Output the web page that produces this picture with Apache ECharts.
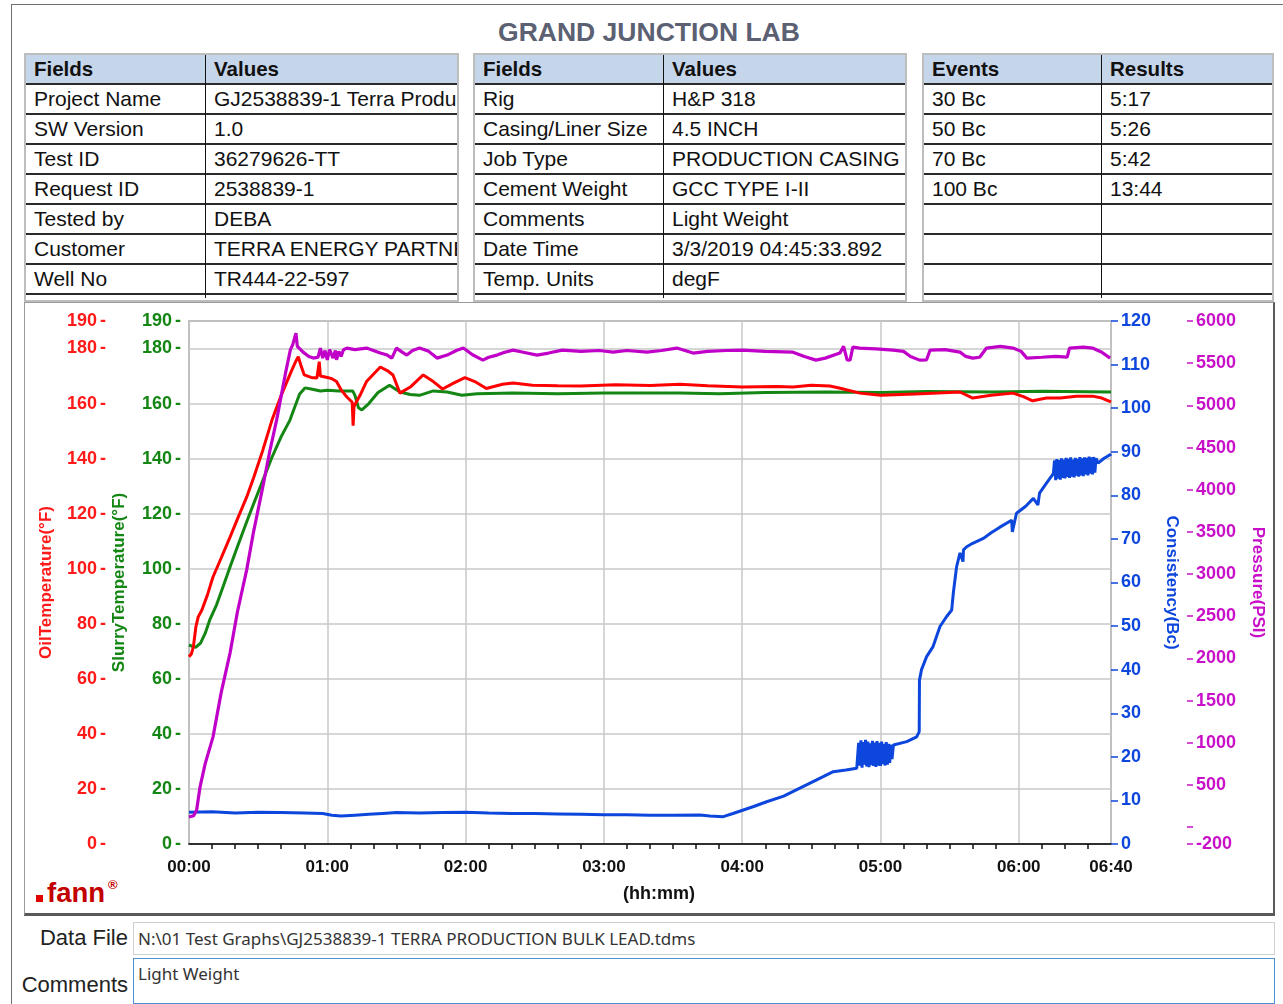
<!DOCTYPE html>
<html><head><meta charset="utf-8">
<script src="https://cdn.jsdelivr.net/npm/echarts@6/dist/echarts.min.js"></script>
<style>
html,body{margin:0;padding:0;background:#fff;width:1283px;height:1004px;overflow:hidden;font-family:'Liberation Sans',Arial,sans-serif;color:#111;}
#frame{position:absolute;left:11px;top:4px;width:1300px;height:1100px;border-left:1px solid #6f6f6f;border-top:1px solid #6f6f6f;}
#title{position:absolute;left:0;width:1298px;top:16px;text-align:center;font-weight:bold;font-size:26.5px;color:#5b6072;line-height:32px;}
.tbl{position:absolute;top:53px;height:249px;border:2px solid #bdbdbd;box-sizing:border-box;background:#fff;}
.row{position:absolute;left:0;right:0;height:28px;border-bottom:2px solid #2a2a2a;font-size:21px;line-height:28px;white-space:nowrap;}
.row.hd{background:#c5d5ea;font-weight:bold;font-size:20.5px;}
.cell{position:absolute;top:0;height:28px;overflow:hidden;padding-left:8px;box-sizing:border-box;}
.div{position:absolute;top:0;width:1.5px;height:243px;background:#111;}
#panel{position:absolute;left:24px;top:302px;width:1251px;height:614px;box-sizing:border-box;border:1px solid #9a9a9a;border-bottom:3px solid #5a5a5a;border-right:2px solid #5a5a5a;}
#logo{position:absolute;left:36px;top:877px;height:32px;}
#logo .sq{position:absolute;left:0;top:18px;width:7px;height:7px;background:#e00000;}
#logo .tx{position:absolute;left:11px;top:0;font-weight:bold;font-size:27.5px;line-height:32px;color:#c30000;}
#logo .r{position:absolute;left:72px;top:0px;font-size:13px;font-weight:bold;color:#c30000;}
.lbl{position:absolute;font-size:22px;line-height:26px;text-align:right;color:#222;}
.box{position:absolute;left:133px;width:1142px;box-sizing:border-box;font-family:'Noto Sans','Open Sans',sans-serif;font-size:17px;color:#333;padding-left:4px;}
#chart{position:absolute;left:0;top:0;width:1283px;height:1004px;}
</style></head>
<body>
<div id="frame"></div>
<div id="title">GRAND JUNCTION LAB</div>
<div id="tables"></div>
<div id="panel"></div>
<div id="logo"><div class="sq"></div><div class="tx">fann</div><div class="r">®</div></div>
<div class="lbl" style="left:10px;width:118px;top:925px;">Data File</div>
<div class="box" style="top:922px;height:33px;border:1px solid #cfcfcf;line-height:31px;">N:\01 Test Graphs\GJ2538839-1 TERRA PRODUCTION BULK LEAD.tdms</div>
<div class="lbl" style="left:0px;width:128px;top:972px;">Comments</div>
<div class="box" style="top:958px;height:46px;border:1.5px solid #4a90d9;line-height:30px;">Light Weight</div>
<div id="chart"></div>
<script>
// ---- table text ----
const table1Fields = ['Project Name','SW Version','Test ID','Request ID','Tested by','Customer','Well No'];
const table1Values = ['GJ2538839-1 Terra Production Bulk Lead','1.0','36279626-TT','2538839-1','DEBA','TERRA ENERGY PARTNERS','TR444-22-597'];
const table2Fields = ['Rig','Casing/Liner Size','Job Type','Cement Weight','Comments','Date Time','Temp. Units'];
const table2Values = ['H&P 318','4.5 INCH','PRODUCTION CASING','GCC TYPE I-II','Light Weight','3/3/2019 04:45:33.892','degF'];
const table3Events = ['30 Bc','50 Bc','70 Bc','100 Bc','','',''];
const table3Results = ['5:17','5:26','5:42','13:44','','',''];

// ---- chart data (minutes from start) ----
const oilTime = [0,1,1.9,3,4,5.6,8,10.4,14,17.8,21,25,28,32,36,40,44,46.4,47.4,48.5,50,53,55.5,56,56.5,57,60,62,64,66,68.5,70.8,71.2,71.6,74.2,77,83,86,88.5,91.5,96,101.6,106,110,115,119.7,124,129,136,140.6,149,160,170,185,200,213,225,240,255,262,270,278,283,291,300,315,325,334.5,340,348,357.5,362,366,372,378,385,392,396,400];
const oilTemp = [68,69,71.6,79,82.5,85,90.5,97,104,111.5,118,126,133,143,154,163,171,175.5,177,174,170.4,169.5,169.3,169.3,175.2,170,169.5,169,168,165,162.4,160.5,152,159,163,168,173.3,172,170.4,163.8,166,170.4,168,165.3,167.5,169.4,168,165.5,167,167.5,166.7,166.5,166.4,166.8,166.6,167,166.5,166,166.2,166,166.7,166.4,165.5,163.8,163,163.5,163.8,164.2,162,163,163.8,162.5,161,162,162,162.7,162.7,162,160.6];

const slurryTime = [0,1.5,3,5,7,9,12,15,17.8,21,25,28,32,36,40,43.8,46,48,50.3,53,57,60,65,71,72,73.5,75,78,82,87,91.5,96,100,106,112,118.4,125,140.6,160,180,213,230,250,276.8,300,320,349,370,400];
const slurryTemp = [72.3,71.8,71.5,73,76.5,81.4,87,94,100.6,108,117,123.5,132,140.5,148,154,159,163.5,165.7,165.3,164.6,164.8,164.6,164.6,163,158.5,157.7,160,164,166.7,164.2,163.3,163,164.6,164.2,163,163.6,163.8,163.6,163.8,163.8,163.6,164,164.2,164,164.4,164.2,164.5,164.2];

const consTime = [0,10,20,30,40,50,58,62,66,72,78,84,90,100,110,120,130,140,150,160,170,180,190,200,210,221.7,226,231.8,236,240.5,245,250.6,258,265,272.3,279.5,285,289.7,
 290,290.5,291,291.5,292,292.5,293,293.5,294,294.5,295,295.5,296,296.5,297,297.5,298,298.5,299,299.5,300,300.5,301,301.5,302,302.5,303,303.5,304,304.5,305,
 305.6,311.4,315.7,316.8,316.9,317.8,320,322.8,325.8,328.7,330.9,331.6,332.3,333,334.5,335.8,336,337.4,340,344.6,348,351.8,356.9,357.2,359,363,366.3,368.3,369,372,375,
 375.5,376,376.5,377,377.5,378,378.5,379,379.5,380,380.5,381,381.5,382,382.5,383,383.5,384,384.5,385,385.5,386,386.5,387,387.5,388,388.5,389,389.5,390,390.5,391,391.5,392,392.5,393,393.5,
 394.4,397,399.6,400];
const consVal = [7.3,7.4,7.1,7.3,7.2,7.1,7.0,6.6,6.4,6.6,6.8,7.0,7.2,7.1,7.2,7.3,7.1,7.0,7.0,6.9,6.8,6.7,6.7,6.6,6.6,6.65,6.4,6.27,7.0,7.8,8.6,9.7,11.0,12.8,14.7,16.6,17.0,17.4,
 17.6,23.2,18,23.8,17.5,23.4,18.2,23.9,17.8,23.5,17.6,23.1,18.1,23.7,17.9,23.3,17.7,23.6,18,23.2,17.9,23.5,18.3,23,18,23.4,18.2,23,18.6,22.8,19.5,
 22.7,23.5,24.6,25.8,37.6,40,43,45.3,49.9,52.2,53.7,57.6,60.6,63.6,66.8,64.8,67.5,68.2,69,70.1,71.4,72.7,74.3,71.6,75.9,77.5,79.3,77.8,80.5,82.8,85,
 88,83.5,88.3,83.8,88.1,83.6,88.5,84,88.2,83.9,88.6,84.2,88.4,84,88.7,84.3,88.2,84.1,88.6,84.5,88.4,84.3,88.8,84.6,88.5,84.4,88.7,84.8,88.6,84.6,88.9,85,88.7,84.8,88.8,85.2,88.5,
 87.4,88.5,89.3,89.5];

const presTime = [0,2,3.3,4.8,7,10.4,14,17.8,21,25,28,32,35,38,42,44,45,46.4,47,47.7,49.5,52,54,56,57,58,59,60,61,62.5,63.5,64,65,66,67,68.5,72,77,80,83,86,88,90,92,94.5,97,100,104,107.6,112,116,119,123,127.5,130,133.6,137,140.6,145,151,156,162,170,178,184,190,198.7,205,211.6,218.7,225,233,240,250,262,267,272,276,282.4,284,285.5,286.8,288,291,298,305.4,310,313,317,320,321.5,328,334.5,337,340,343,346,352,357.5,361,363.5,370,376,381,382,388,392,396,399.6];
const presVal = [120,135,200,478,750,1067,1600,2063,2550,3047,3500,4031,4450,4825,5400,5660,5720,5857,5700,5679,5631,5580,5560,5572,5679,5560,5650,5540,5660,5560,5650,5540,5640,5580,5660,5679,5660,5679,5650,5620,5596,5560,5679,5640,5596,5650,5679,5640,5560,5596,5650,5679,5600,5536,5570,5596,5630,5655,5630,5596,5620,5655,5640,5650,5631,5650,5631,5650,5679,5620,5640,5650,5655,5640,5631,5580,5536,5560,5620,5700,5540,5536,5690,5679,5670,5655,5640,5580,5536,5540,5655,5660,5631,5580,5560,5570,5679,5700,5679,5640,5560,5570,5580,5572,5679,5690,5679,5630,5560];

// ---- axis ticks / labels ----
const timeLabels = [0,60,120,180,240,300,360,400];
const timeMinorTicks = [10,20,30,40,50,70,80,90,100,110,130,140,150,160,170,190,200,210,220,230,250,260,270,280,290,310,320,330,340,350,370,380,390];
const tempTicks = [0,20,40,60,80,100,120,140,160,180,190];
const consTicks = [0,10,20,30,40,50,60,70,80,90,100,110,120];
const presTicks = [-200,0,500,1000,1500,2000,2500,3000,3500,4000,4500,5000,5500,6000];
const presLabels = [-200,500,1000,1500,2000,2500,3000,3500,4000,4500,5000,5500,6000];

// ---- build tables ----
function buildTable(left, width, divX, h1, h2, col1, col2){
  const t = document.createElement('div');
  t.className = 'tbl';
  t.style.left = left + 'px';
  t.style.width = width + 'px';
  const inner = width - 4;
  const c1w = divX - left - 2;
  const rows = [[h1,h2,true]].concat(col1.map((v,i)=>[v,col2[i],false]));
  rows.forEach((r,i)=>{
    const row = document.createElement('div');
    row.className = 'row' + (r[2] ? ' hd' : '');
    row.style.top = (i*30) + 'px';
    const a = document.createElement('div'); a.className='cell'; a.style.left='0px'; a.style.width=c1w+'px'; a.textContent=r[0];
    const b = document.createElement('div'); b.className='cell'; b.style.left=(c1w+1)+'px'; b.style.width=(inner-c1w-1)+'px'; b.textContent=r[1];
    row.appendChild(a); row.appendChild(b);
    t.appendChild(row);
  });
  const d = document.createElement('div'); d.className='div'; d.style.left=(c1w-0.5)+'px';
  t.appendChild(d);
  document.getElementById('tables').appendChild(t);
}
buildTable(24, 435, 205, 'Fields','Values', table1Fields, table1Values);
buildTable(473, 434, 663, 'Fields','Values', table2Fields, table2Values);
buildTable(922, 352, 1101, 'Events','Results', table3Events, table3Results);

// ---- chart ----
const pair = (ts, vs) => ts.map((t,i)=>[t, vs[i]]);
const FF = "'Liberation Sans', Arial, sans-serif";
const RED = '#ff1a1a', GREEN = '#138613', BLUE = '#0c46dc', MAG = '#c810c8';
const fmtTime = v => { const h = Math.floor(v/60), m = Math.round(v%60); return String(h).padStart(2,'0') + ':' + String(m).padStart(2,'0'); };
const plain = v => String(v);
const hiddenLine = {show:true, lineStyle:{color:'#ffffff', opacity:0, width:1}};

// left axes: value followed by a short tick dash, as in the reference
function tempAxis(offset, color, name, gap){
  return {
    type:'value', min:0, max:190, position:'left', offset:offset,
    axisLine:{show:false},
    axisTick:{show:false},
    axisLabel:{customValues:tempTicks, formatter: v => v + '{t|-}', margin:0, color:color, fontWeight:'bold', fontSize:18, fontFamily:FF,
      rich:{t:{color:color, fontWeight:'bold', fontSize:18, fontFamily:FF, padding:[0,0,0,3]}}},
    splitLine:{show:false},
    name:name, nameLocation:'middle', nameGap:gap, nameRotate:90,
    nameTextStyle:{color:color, fontWeight:'bold', fontSize:17, fontFamily:FF}
  };
}

const chart = echarts.init(document.getElementById('chart'), null, {renderer:'canvas'});
chart.setOption({
  animation:false,
  backgroundColor:'transparent',
  grid:{left:189, top:321, width:922, height:523, show:true, borderColor:'#8c8c8c', borderWidth:1.5, backgroundColor:'transparent'},
  xAxis:[
    {type:'value', min:0, max:400, position:'bottom',
     axisLine:{show:true, onZero:false, lineStyle:{color:'#000', width:1.5}},
     axisTick:{show:true, customValues:timeMinorTicks, length:5, inside:false, lineStyle:{color:'#111', width:1.5}},
     axisLabel:{customValues:timeLabels, formatter:fmtTime, margin:15, color:'#111', fontWeight:'bold', fontSize:17, fontFamily:FF},
     splitLine:{show:false},
     name:'(hh:mm)', nameLocation:'middle', nameGap:41,
     nameTextStyle:{color:'#111', fontWeight:'bold', fontSize:18, fontFamily:FF, padding:[0,0,0,18]}},
    {type:'value', min:0, max:400, interval:60, position:'bottom',
     axisLine:{show:false}, axisTick:{show:false}, axisLabel:{show:false},
     splitLine:{show:true, lineStyle:{color:'#c9c9c9', width:1.5}}}
  ],
  yAxis:[
    tempAxis(83, RED, 'OilTemperature(°F)', 51),
    tempAxis(8, GREEN, 'SlurryTemperature(°F)', 53),
    {type:'value', min:0, max:120, position:'right', offset:0,
     axisLine:hiddenLine,
     axisTick:{show:true, customValues:consTicks, length:7, inside:false, lineStyle:{color:BLUE, width:1.5}},
     axisLabel:{customValues:consTicks, formatter:plain, margin:10, color:BLUE, fontWeight:'bold', fontSize:18, fontFamily:FF},
     splitLine:{show:false},
     name:'Consistency(Bc)', nameLocation:'middle', nameGap:52, nameRotate:-90,
     nameTextStyle:{color:BLUE, fontWeight:'bold', fontSize:17, fontFamily:FF}},
    {type:'value', min:-200, max:6000, position:'right', offset:76,
     axisLine:hiddenLine,
     axisTick:{show:true, customValues:presTicks, length:6, inside:false, lineStyle:{color:MAG, width:1.5}},
     axisLabel:{customValues:presLabels, formatter:plain, margin:9, color:MAG, fontWeight:'bold', fontSize:18, fontFamily:FF},
     splitLine:{show:false},
     name:'Pressure(PSI)', nameLocation:'middle', nameGap:62, nameRotate:-90,
     nameTextStyle:{color:MAG, fontWeight:'bold', fontSize:17, fontFamily:FF}},
    {type:'value', min:0, max:190, interval:20, position:'left',
     axisLine:{show:false}, axisTick:{show:false}, axisLabel:{show:false},
     splitLine:{show:true, lineStyle:{color:'#c9c9c9', width:1.5}}}
  ],
  series:[
    {name:'Consistency', type:'line', xAxisIndex:0, yAxisIndex:2, data:pair(consTime, consVal), showSymbol:false, symbol:'none', lineStyle:{color:BLUE, width:3}},
    {name:'Slurry Temperature', type:'line', xAxisIndex:0, yAxisIndex:1, data:pair(slurryTime, slurryTemp), showSymbol:false, symbol:'none', lineStyle:{color:GREEN, width:3}},
    {name:'Oil Temperature', type:'line', xAxisIndex:0, yAxisIndex:0, data:pair(oilTime, oilTemp), showSymbol:false, symbol:'none', lineStyle:{color:'#ff0000', width:3}},
    {name:'Pressure', type:'line', xAxisIndex:0, yAxisIndex:3, data:pair(presTime, presVal), showSymbol:false, symbol:'none', lineStyle:{color:'#c000c8', width:3.2}}
  ]
});
</script>
</body></html>
